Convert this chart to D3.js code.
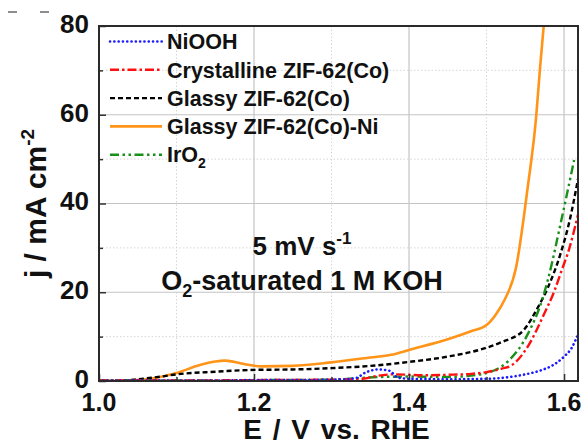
<!DOCTYPE html>
<html><head><meta charset="utf-8">
<script src="https://cdn.jsdelivr.net/npm/d3@7"></script>
<style>html,body{margin:0;padding:0;background:#fff;}</style>
</head><body>
<svg id="c" width="586" height="445"></svg>
<script>
// ---- data ----
const xTicks = [1.0, 1.2, 1.4, 1.6];
const xMinor = [1.1, 1.3, 1.5];
const yTicks = [0, 20, 40, 60, 80];
const yMinor = [10, 30, 50, 70];
const seriesNames = ["NiOOH", "Crystalline ZIF-62(Co)", "Glassy ZIF-62(Co)", "Glassy ZIF-62(Co)-Ni", "IrO2"];

const niooh_E = [1.00,1.05,1.10,1.15,1.20,1.25,1.30,1.33,1.345,1.36,1.375,1.385,1.40,1.45,1.50,1.53,1.55,1.57,1.585,1.60,1.61,1.618];
const niooh_j = [0.1,0.1,0.1,0.1,0.2,0.2,0.3,0.6,2.0,2.6,2.3,0.8,0.5,0.4,0.5,0.9,1.5,2.4,3.5,5.5,7.5,10.5];

const cryst_E = [1.00,1.10,1.20,1.30,1.34,1.36,1.38,1.42,1.45,1.48,1.50,1.52,1.532,1.553,1.574,1.588,1.596,1.607,1.618];
const cryst_j = [0.1,0.1,0.2,0.3,0.5,1.2,1.5,1.3,1.4,1.6,2.0,2.8,3.5,7.7,15.0,20.5,24.5,30.0,37.5];

const glassy_E = [1.00,1.03,1.05,1.08,1.10,1.15,1.20,1.25,1.30,1.35,1.40,1.45,1.50,1.52,1.548,1.566,1.579,1.596,1.607,1.618];
const glassy_j = [0.0,0.1,0.4,1.0,1.5,2.1,2.5,2.6,2.9,3.4,4.3,5.5,7.5,8.8,11.5,16.5,21.0,29.0,36.0,45.5];

const ni_E = [1.00,1.04,1.07,1.10,1.13,1.15,1.162,1.175,1.19,1.21,1.25,1.30,1.35,1.377,1.40,1.45,1.48,1.50,1.512,1.523,1.538,1.553,1.564,1.569,1.574];
const ni_j = [0.0,0.1,0.6,1.8,3.6,4.4,4.6,4.3,3.7,3.3,3.4,4.2,5.3,5.9,7.0,9.4,11.2,12.6,15.0,18.2,25.5,43.5,59.5,70.5,80.5];

const iro2_E = [1.00,1.10,1.20,1.30,1.33,1.36,1.40,1.45,1.48,1.50,1.515,1.528,1.553,1.573,1.585,1.59,1.603,1.613];
const iro2_j = [0.1,0.1,0.2,0.3,0.6,0.9,1.0,0.9,1.2,1.8,2.8,4.5,10.5,19.0,27.0,31.0,41.5,49.8];

// ---- layout ----
const svg = d3.select("#c");
const L = 99, R = 578, T = 26, B = 381;
const x = d3.scaleLinear().domain([1.0, 1.618]).range([L, R]);
const y = d3.scaleLinear().domain([0, 80]).range([B, T]);
const FONT = "'Liberation Sans', Arial, sans-serif";

// grid
const grid = svg.append("g");
grid.selectAll(".gxm").data(xMinor).join("line")
  .attr("x1", d => x(d)).attr("x2", d => x(d)).attr("y1", T).attr("y2", B)
  .attr("stroke", "#d6d6d6").attr("stroke-width", 1).attr("stroke-dasharray", "1.5 2");
grid.selectAll(".gym").data(yMinor).join("line")
  .attr("x1", L).attr("x2", R).attr("y1", d => y(d)).attr("y2", d => y(d))
  .attr("stroke", "#d6d6d6").attr("stroke-width", 1).attr("stroke-dasharray", "1.5 2");
grid.selectAll(".gx").data(xTicks.filter(d => d > 1.0)).join("line")
  .attr("x1", d => x(d)).attr("x2", d => x(d)).attr("y1", T).attr("y2", B)
  .attr("stroke", "#c4c4c4").attr("stroke-width", 1.2);
grid.selectAll(".gy").data(yTicks.filter(d => d > 0 && d < 80)).join("line")
  .attr("x1", L).attr("x2", R).attr("y1", d => y(d)).attr("y2", d => y(d))
  .attr("stroke", "#c4c4c4").attr("stroke-width", 1.2);

// clip
svg.append("clipPath").attr("id", "clip").append("rect")
  .attr("x", L).attr("y", T).attr("width", R - L).attr("height", B - T);

const styles = [
  {E: niooh_E, j: niooh_j, color: "#1b1bff", dash: "0.1 4.2", cap: "round", w: 2.6},
  {E: cryst_E, j: cryst_j, color: "#ff1010", dash: "9 3 2.5 3", cap: "butt", w: 2.4},
  {E: glassy_E, j: glassy_j, color: "#000000", dash: "5 3", cap: "butt", w: 2.4},
  {E: ni_E, j: ni_j, color: "#ff9418", dash: null, cap: "butt", w: 2.6},
  {E: iro2_E, j: iro2_j, color: "#1a8f1a", dash: "9 3.5 2.5 3.5 2.5 3.5", cap: "butt", w: 2.4}
];

const line = d3.line().x(d => x(d[0])).y(d => y(d[1])).curve(d3.curveMonotoneX);
const plot = svg.append("g").attr("clip-path", "url(#clip)");
// draw order: orange, black, green, red, blue on top
[3, 2, 4, 1, 0].forEach(i => {
  const s = styles[i];
  plot.append("path").datum(d3.zip(s.E, s.j))
    .attr("d", line).attr("fill", "none")
    .attr("stroke", s.color).attr("stroke-width", s.w)
    .attr("stroke-linecap", s.cap)
    .attr("stroke-dasharray", s.dash);
});

// axes with inward ticks
const ax = svg.append("g");
ax.append("g").attr("transform", `translate(${L},0)`)
  .call(d3.axisLeft(y).tickValues(yTicks).tickSize(-7).tickFormat(""));
ax.append("g").attr("transform", `translate(${L},0)`)
  .call(d3.axisLeft(y).tickValues(yMinor).tickSize(-4).tickFormat(""));
ax.append("g").attr("transform", `translate(0,${B})`)
  .call(d3.axisBottom(x).tickValues(xTicks).tickSize(-7).tickFormat(""));
ax.append("g").attr("transform", `translate(0,${B})`)
  .call(d3.axisBottom(x).tickValues(xMinor).tickSize(-4).tickFormat(""));
ax.selectAll(".domain").remove();
ax.selectAll("line").attr("stroke", "#333").attr("stroke-width", 1.5);

// frame
svg.append("rect").attr("x", L).attr("y", T).attr("width", R - L).attr("height", B - T)
  .attr("fill", "none").attr("stroke", "#2a2a2a").attr("stroke-width", 2);

// tick labels
svg.append("g").selectAll("text").data(yTicks).join("text")
  .attr("x", L - 10).attr("y", d => y(d)).attr("dy", "0.26em")
  .attr("text-anchor", "end").attr("font-family", FONT).attr("font-weight", "bold")
  .attr("font-size", 26).attr("fill", "#111").text(d => d);
svg.append("g").selectAll("text").data(xTicks).join("text")
  .attr("x", d => x(d)).attr("y", 411)
  .attr("text-anchor", "middle").attr("font-family", FONT).attr("font-weight", "bold")
  .attr("font-size", 25).attr("fill", "#111").text(d => d3.format(".1f")(d));

// axis titles
svg.append("text").attr("x", (L + R) / 2 - 2).attr("y", 439)
  .attr("text-anchor", "middle").attr("font-family", FONT).attr("font-weight", "bold")
  .attr("font-size", 28).attr("fill", "#111").attr("word-spacing", 3).text("E / V vs. RHE");
const yt = svg.append("text").attr("transform", `translate(46,${(T + B) / 2}) rotate(-90)`)
  .attr("text-anchor", "middle").attr("font-family", FONT).attr("font-weight", "bold")
  .attr("font-size", 30).attr("fill", "#111");
yt.append("tspan").text("j / mA cm");
yt.append("tspan").attr("font-size", 19).attr("dy", -12).text("-2");

// annotation
const a1 = svg.append("text").attr("x", 302).attr("y", 255).attr("text-anchor", "middle")
  .attr("font-family", FONT).attr("font-weight", "bold").attr("font-size", 26).attr("fill", "#111");
a1.append("tspan").text("5 mV s");
a1.append("tspan").attr("font-size", 17).attr("dy", -11).text("-1");
const a2 = svg.append("text").attr("x", 302).attr("y", 290).attr("text-anchor", "middle")
  .attr("font-family", FONT).attr("font-weight", "bold").attr("font-size", 27).attr("fill", "#111");
a2.append("tspan").text("O");
a2.append("tspan").attr("font-size", 18).attr("dy", 7).text("2");
a2.append("tspan").attr("dy", -7).text("-saturated 1 M KOH");

// legend
const leg = svg.append("g");
styles.forEach((s, i) => {
  const ly = 41.5 + i * 28.3;
  leg.append("line").attr("x1", 110).attr("x2", 162).attr("y1", ly).attr("y2", ly)
    .attr("stroke", s.color).attr("stroke-width", s.w)
    .attr("stroke-linecap", s.cap).attr("stroke-dasharray", s.dash);
  const t = leg.append("text").attr("x", 167).attr("y", ly).attr("dy", "0.36em")
    .attr("font-family", FONT).attr("font-weight", "bold").attr("font-size", 21.5)
    .attr("fill", "#111");
  if (seriesNames[i] === "IrO2") {
    t.append("tspan").text("IrO");
    t.append("tspan").attr("font-size", 14).attr("dy", 6).text("2");
  } else {
    t.text(seriesNames[i]);
  }
});

// small corner marks (artifacts in the original)
svg.append("g").selectAll("line").data([[8, 17], [40, 49]]).join("line")
  .attr("x1", d => d[0]).attr("x2", d => d[1]).attr("y1", 12).attr("y2", 12)
  .attr("stroke", "#444").attr("stroke-width", 1.2);
</script>
</body></html>
